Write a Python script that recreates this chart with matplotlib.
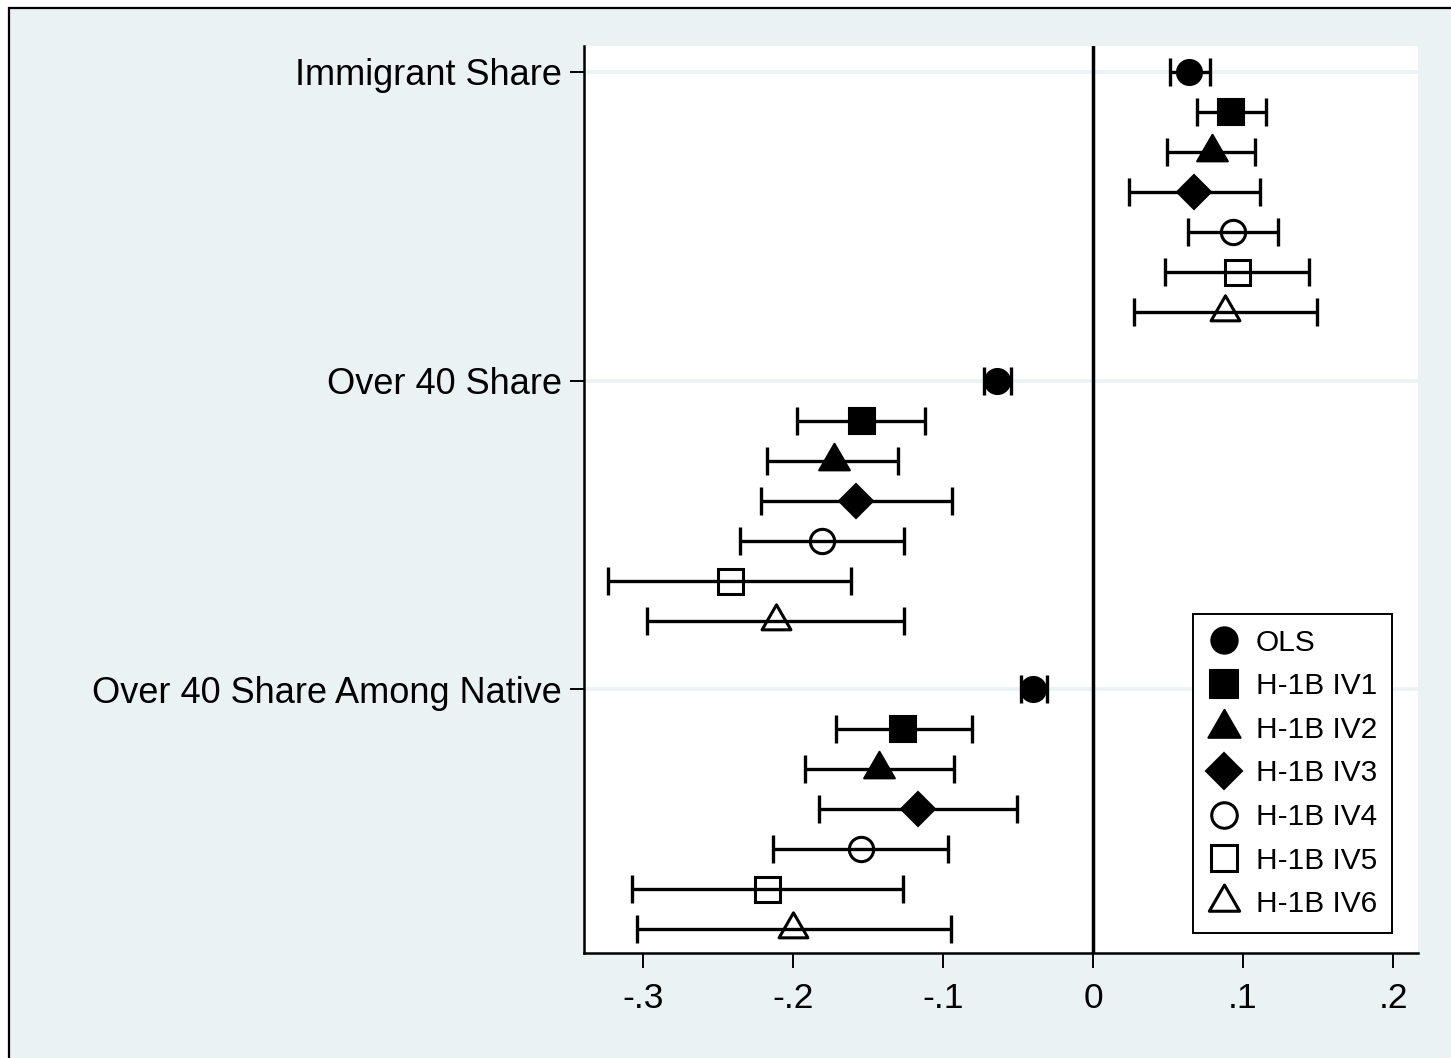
import matplotlib
matplotlib.use("Agg")
import matplotlib.pyplot as plt
from matplotlib.patches import Rectangle
from matplotlib.path import Path

plt.rcParams['font.family'] = ['Liberation Sans', 'DejaVu Sans']

# ---------------- data ----------------
categories = ["Immigrant Share", "Over 40 Share", "Over 40 Share Among Native"]
models = ["OLS", "H-1B IV1", "H-1B IV2", "H-1B IV3", "H-1B IV4", "H-1B IV5", "H-1B IV6"]

imm_coef = [0.064, 0.092, 0.079, 0.067, 0.093, 0.096, 0.088]
imm_lo   = [0.051, 0.069, 0.049, 0.024, 0.063, 0.048, 0.027]
imm_hi   = [0.078, 0.115, 0.108, 0.111, 0.123, 0.144, 0.149]

o40_coef = [-0.064, -0.154, -0.173, -0.158, -0.181, -0.242, -0.211]
o40_lo   = [-0.073, -0.197, -0.217, -0.221, -0.235, -0.323, -0.297]
o40_hi   = [-0.055, -0.112, -0.130, -0.094, -0.126, -0.161, -0.126]

nat_coef = [-0.040, -0.127, -0.143, -0.117, -0.155, -0.217, -0.200]
nat_lo   = [-0.048, -0.171, -0.192, -0.183, -0.213, -0.307, -0.304]
nat_hi   = [-0.031, -0.081, -0.093, -0.051, -0.097, -0.127, -0.095]

xticks = [-0.3, -0.2, -0.1, 0, 0.1, 0.2]
xticklabels = ["-.3", "-.2", "-.1", "0", ".1", ".2"]

coefs = [imm_coef, o40_coef, nat_coef]
los = [imm_lo, o40_lo, nat_lo]
his = [imm_hi, o40_hi, nat_hi]

# ---------------- styles ----------------
BG = '#EAF2F3'
tri = Path([(0, 1), (-0.866, -0.5), (0.866, -0.5), (0, 1)],
           [Path.MOVETO, Path.LINETO, Path.LINETO, Path.CLOSEPOLY])
styles = [
    dict(marker='o', ms=18, mfc='black', mew=1.5),
    dict(marker='s', ms=19, mfc='black', mew=1.5),
    dict(marker=tri, ms=25.5, mfc='black', mew=1.5),
    dict(marker='D', ms=17.3, mfc='black', mew=1.5),
    dict(marker='o', ms=17.5, mfc='none', mew=2.2),
    dict(marker='s', ms=18, mfc='none', mew=2.2),
    dict(marker=tri, ms=24, mfc='none', mew=2.2),
]

group_gap = 7.72

fig = plt.figure(figsize=(14.51, 10.58), dpi=100, facecolor='white')
fig.add_artist(Rectangle((9 / 1451, -0.1), 1.2, 1 - 8 / 1058 + 0.1,
                         transform=fig.transFigure, facecolor=BG,
                         edgecolor='black', linewidth=1.6, zorder=-10))

ax = fig.add_axes([584 / 1451, 1 - 953 / 1058, (1418 - 584) / 1451, (953 - 46) / 1058])
ax.set_facecolor('white')

for g in range(len(categories)):
    ax.axhline(g * group_gap, color=BG, lw=2.6, zorder=0)

ax.axvline(0, color='black', lw=2.5, zorder=1)

handles = []
for m, (name, st) in enumerate(zip(models, styles)):
    ys = [g * group_gap + m for g in range(len(categories))]
    xs = [coefs[g][m] for g in range(len(categories))]
    lo = [coefs[g][m] - los[g][m] for g in range(len(categories))]
    hi = [his[g][m] - coefs[g][m] for g in range(len(categories))]
    ax.errorbar(xs, ys, xerr=[lo, hi], fmt='none', ecolor='black',
                elinewidth=2.4, capsize=10, capthick=2.4, zorder=2)
    h, = ax.plot(xs, ys, linestyle='none', color='black', mec='black',
                 zorder=3, label=name, **st)
    handles.append(h)

ax.set_xlim((584 - 1093) / 1500, (1418 - 1093) / 1500)
ax.set_ylim(22.03, -0.65)

ax.set_xticks(xticks)
ax.set_xticklabels(xticklabels)
ax.set_yticks([g * group_gap for g in range(len(categories))])
ax.set_yticklabels(categories)

ax.tick_params(axis='x', direction='out', length=11, width=1.4, pad=10,
               labelsize=25.5, colors='black')
ax.tick_params(axis='y', direction='out', length=10, width=1.4, pad=6,
               labelsize=26, colors='black')

for s in ['top', 'right']:
    ax.spines[s].set_visible(False)
for s in ['left', 'bottom']:
    ax.spines[s].set_linewidth(1.8)
    ax.spines[s].set_color('black')

leg = ax.legend(handles=handles, loc='lower right',
                bbox_to_anchor=(1392 / 1451, 1 - 933 / 1058),
                bbox_transform=fig.transFigure, borderaxespad=0,
                fontsize=21.5, frameon=True, fancybox=False,
                borderpad=0.5, handlelength=1.05, handletextpad=0.55,
                labelspacing=0.52, markerscale=1.05)
leg.get_frame().set_edgecolor('black')
leg.get_frame().set_linewidth(1.4)
leg.get_frame().set_facecolor('white')
leg.get_frame().set_alpha(1)

fig.savefig('out.png', dpi=100, facecolor=fig.get_facecolor())
